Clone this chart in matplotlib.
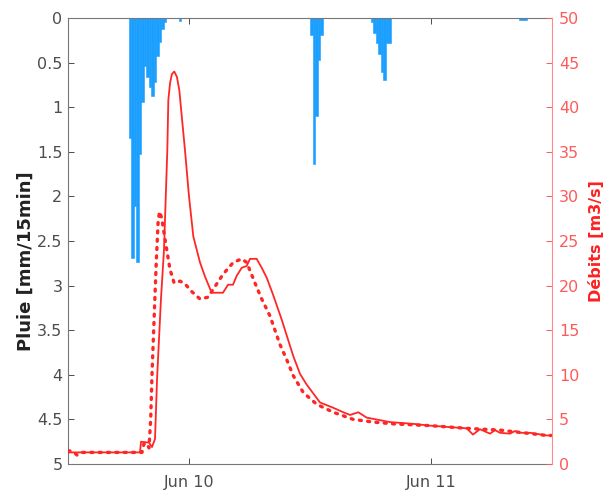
import numpy as np
import pandas as pd
import matplotlib
matplotlib.use('Agg')
import matplotlib.pyplot as plt
import matplotlib.dates as mdates
from matplotlib.ticker import FuncFormatter

plt.rcParams['font.family'] = ['DejaVu Sans']

t0 = pd.Timestamp('2020-06-09 00:00')

# pluie (mm/15min), debut de chaque pas de 15 min en heures depuis le 9 juin 00h
rain_hours = [18.0, 18.25, 18.5, 18.75, 19.0, 19.25, 19.5, 19.75, 20.0, 20.25,
              20.5, 20.75, 21.0, 21.25, 21.5, 23.0,
              36.0, 36.25, 36.5, 36.75, 37.0,
              42.0, 42.25, 42.5, 42.75, 43.0, 43.25, 43.5, 43.75,
              56.75, 57.0, 57.25]
rain_mm = [1.34, 2.69, 2.11, 2.74, 1.53, 0.94, 0.54, 0.66, 0.77, 0.88,
           0.72, 0.43, 0.27, 0.12, 0.04, 0.03,
           0.19, 1.64, 1.1, 0.47, 0.19,
           0.04, 0.17, 0.28, 0.40, 0.60, 0.69, 0.28, 0.28,
           0.02, 0.02, 0.02]

# debit trait plein
q1_hours = [12.0, 15.17, 19.14, 19.24, 20.03, 20.33, 20.63, 20.83, 21.22, 21.52,
            21.85, 21.95, 22.12, 22.3, 22.54, 22.8, 23.04, 23.28, 23.60, 24.0,
            24.43, 25.09, 25.59,
            26.25, 27.37, 27.87, 28.36, 28.73, 29.23, 29.72, 30.05, 30.71, 31.21,
            31.70, 32.33, 33.19, 34.34, 35.01, 35.67, 36.99, 38.31, 39.30, 39.97,
            40.79, 41.62, 43.93, 46.24, 47.90, 51.54, 52.16, 52.86, 53.85, 54.35,
            54.84, 55.83, 56.33, 56.82, 57.82, 59.47, 59.9]
q1 = [1.3, 1.3, 1.3, 2.5, 2.4, 1.9, 2.8, 9.5, 18.5, 24.0,
      35.2, 40.8, 42.7, 43.7, 44.0, 43.4, 41.9, 39.0, 35.2, 30.0,
      25.5, 22.6, 21.0,
      19.2, 19.2, 20.1, 20.1, 21.1, 22.0, 22.2, 23.0, 23.0, 22.0,
      20.9, 19.0, 16.2, 12.1, 10.1, 8.9, 6.9, 6.3, 5.8, 5.5,
      5.8, 5.2, 4.7, 4.5, 4.3, 4.0, 3.3, 3.9, 3.4, 3.8,
      3.5, 3.4, 3.7, 3.5, 3.5, 3.2, 3.2]

# debit pointille
q2_hours = [12.0, 12.5, 12.89, 13.39, 19.34, 19.54, 19.83, 20.03, 20.2, 20.33,
            20.53, 20.73, 20.93, 21.07, 21.29, 21.62, 22.12, 22.52, 23.11, 23.60,
            24.30, 25.09, 25.88, 26.58, 27.40, 28.39, 29.23, 29.72, 30.54, 31.21,
            32.03, 33.02, 33.69, 34.34, 35.34, 36.66, 38.31, 40.29, 42.28, 44.26,
            47.90, 51.54, 54.84, 59.47, 59.9]
q2 = [1.5, 1.4, 1.0, 1.3, 1.3, 2.3, 2.3, 1.8, 5.0, 10.0,
      16.0, 22.0, 27.0, 28.3, 27.6, 25.2, 21.8, 20.3, 20.5, 20.2,
      19.3, 18.5, 18.7, 19.9, 21.3, 22.6, 23.0, 22.6, 20.3, 18.5,
      16.6, 13.4, 11.7, 9.9, 8.0, 6.7, 5.8, 5.0, 4.7, 4.5,
      4.3, 4.0, 3.8, 3.2, 3.2]


def to_dates(hours):
    return mdates.date2num(t0 + pd.to_timedelta(hours, unit='h'))


grey = '#4d4d4d'
red = '#ff2626'
blue = '#1a9fff'

fig = plt.figure(figsize=(6.06, 4.91), dpi=100)
ax = fig.add_axes([68 / 606, 1 - 464 / 491, 484 / 606, 446 / 491])

ax.bar(to_dates(rain_hours), rain_mm, width=1 / 96, align='edge',
       color=blue, edgecolor=blue, linewidth=0.4)
ax.set_ylim(5, 0)
ax.set_yticks(np.arange(0, 5.01, 0.5))
ax.yaxis.set_major_formatter(FuncFormatter(lambda v, p: '%g' % v))
ax.set_ylabel('Pluie [mm/15min]', fontsize=13, fontweight='bold', color='#222222')
ax.yaxis.set_label_coords(-0.068, 0.455)

ax.set_xlim(to_dates([12.0])[0], to_dates([60.0])[0])
ax.xaxis.set_major_locator(mdates.DayLocator())
ax.xaxis.set_major_formatter(mdates.DateFormatter('%b %d'))
ax.tick_params(axis='both', direction='in', length=4, width=0.7, colors=grey,
               labelsize=11.5, top=True, pad=4)
ax.tick_params(axis='x', pad=8)
for s in ['left', 'bottom', 'top']:
    ax.spines[s].set_color('#777777')
    ax.spines[s].set_linewidth(0.8)
ax.spines['right'].set_visible(False)

ax2 = ax.twinx()
ax2.plot(to_dates(q1_hours), q1, color=red, lw=1.3)
ax2.plot(to_dates(q2_hours), q2, color=red, lw=2.4, linestyle=(0, (0.6, 1.9)),
         dash_capstyle='round')
ax2.set_ylim(0, 50)
ax2.set_yticks(np.arange(0, 51, 5))
ax2.tick_params(axis='y', direction='in', length=4, width=0.7, colors='#ff5a5a',
                labelsize=11.5, pad=5)
ax2.set_ylabel('Débits [m3/s]', fontsize=11.5, fontweight='bold', color='#ff2020', labelpad=6)
for s in ['left', 'bottom', 'top']:
    ax2.spines[s].set_visible(False)
ax2.spines['right'].set_color('#ff8a8a')
ax2.spines['right'].set_linewidth(0.8)

fig.savefig('out.png', dpi=100)
